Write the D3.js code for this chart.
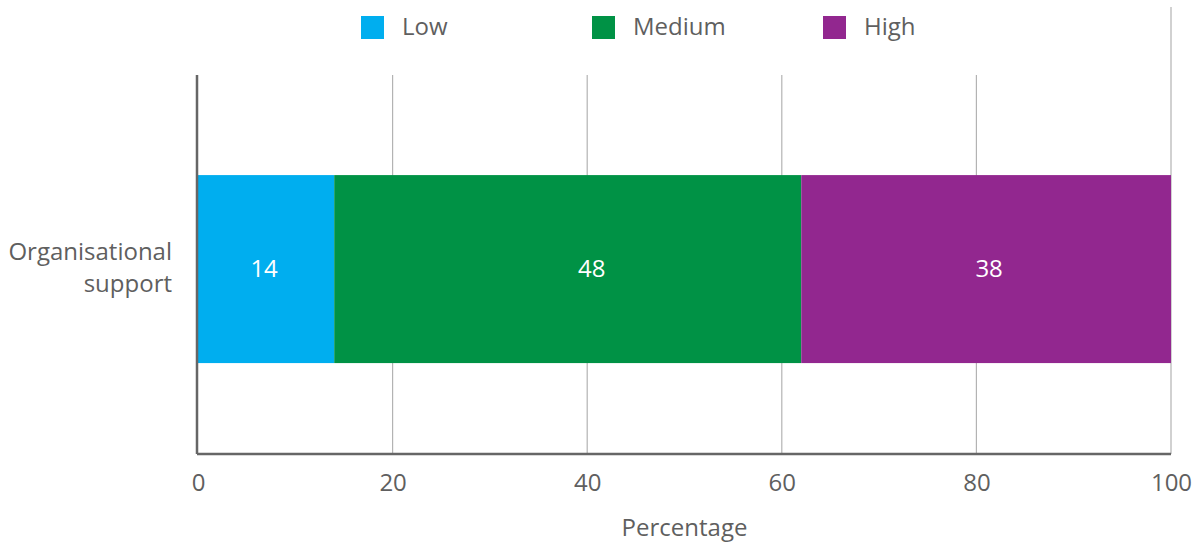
<!DOCTYPE html>
<html>
<head>
<meta charset="utf-8">
<script src="https://cdn.jsdelivr.net/npm/d3@7"></script>
<style>
  body { margin: 0; background: #fff; }
  svg text { font-family: "Open Sans", "Noto Sans", sans-serif; fill: #5f5f5f; }
</style>
</head>
<body>
<svg></svg>
<script>
// Data
const categories = ['Organisational support'];
const seriesNames = ['Low', 'Medium', 'High'];
const seriesColors = ['#00AEEF', '#009245', '#92278F'];
const lowValues = [14];
const mediumValues = [48];
const highValues = [38];
const xTicks = [0, 20, 40, 60, 80, 100];

// Constants
const width = 1196;
const height = 543;
const plotLeft = 198;
const plotRight = 1171;
const plotTop = 75;
const plotBottom = 454;
// small manual nudges of the value labels (px), as in the original
const labelShift = { Low: -2, Medium: 24, High: 3 };

const svg = d3.select('svg')
    .attr('width', width)
    .attr('height', height);

// table for stacking
const table = categories.map((c, i) => ({
    category: c,
    Low: lowValues[i],
    Medium: mediumValues[i],
    High: highValues[i]
}));
const stacked = d3.stack().keys(seriesNames)(table);

// scales
const x = d3.scaleLinear()
    .domain([0, 100])
    .range([plotLeft, plotRight]);

const y = d3.scaleBand()
    .domain(categories)
    .range([plotTop, plotBottom])
    .paddingInner(0.5)
    .paddingOuter(0.254)
    .align(0.524);

const color = d3.scaleOrdinal()
    .domain(seriesNames)
    .range(seriesColors);

// gridlines
svg.append('g')
    .selectAll('line')
    .data(xTicks.filter(d => d > 0))
    .enter().append('line')
    .attr('x1', d => x(d))
    .attr('x2', d => x(d))
    .attr('y1', d => d === 100 ? 7 : plotTop)
    .attr('y2', plotBottom)
    .attr('stroke', '#b3b3b3')
    .attr('stroke-width', 1.2);

// bars
const layers = svg.append('g')
    .selectAll('g')
    .data(stacked)
    .enter().append('g')
    .attr('fill', d => color(d.key));

layers.selectAll('rect')
    .data(d => d)
    .enter().append('rect')
    .attr('x', d => x(d[0]))
    .attr('y', d => y(d.data.category))
    .attr('width', d => x(d[1]) - x(d[0]))
    .attr('height', y.bandwidth());

layers.each(function (s) {
    d3.select(this).selectAll('text')
        .data(s)
        .enter().append('text')
        .attr('x', d => (x(d[0]) + x(d[1])) / 2 + labelShift[s.key])
        .attr('y', d => y(d.data.category) + y.bandwidth() / 2)
        .attr('dy', '0.35em')
        .attr('text-anchor', 'middle')
        .style('fill', '#fff')
        .style('font-size', '24px')
        .text(d => d[1] - d[0]);
});

// x axis
const xAxis = d3.axisBottom(x)
    .tickValues(xTicks)
    .tickSize(0)
    .tickPadding(20)
    .tickFormat(d => String(d));

const gx = svg.append('g')
    .attr('transform', `translate(0, ${plotBottom})`)
    .call(xAxis);
gx.select('.domain').remove();
gx.selectAll('text')
    .style('font-size', '24px');

svg.append('line')
    .attr('x1', plotLeft - 1)
    .attr('x2', plotRight)
    .attr('y1', plotBottom)
    .attr('y2', plotBottom)
    .attr('stroke', '#666')
    .attr('stroke-width', 2.5);

// y axis
svg.append('line')
    .attr('x1', plotLeft - 1)
    .attr('x2', plotLeft - 1)
    .attr('y1', plotTop)
    .attr('y2', plotBottom)
    .attr('stroke', '#666')
    .attr('stroke-width', 2.5);

// category labels
svg.append('g')
    .selectAll('text')
    .data(categories)
    .enter().append('text')
    .attr('text-anchor', 'end')
    .style('font-size', '24px')
    .attr('transform', d => `translate(172, ${y(d) + y.bandwidth() / 2})`)
    .each(function (d) {
        const words = ['Organisational', 'support'];
        d3.select(this).selectAll('tspan')
            .data(words).enter().append('tspan')
            .attr('x', 0)
            .attr('y', (w, i) => i === 0 ? -9 : 23)
            .text(w => w);
    });

// axis title
svg.append('text')
    .attr('x', (plotLeft + plotRight) / 2)
    .attr('y', 536)
    .attr('text-anchor', 'middle')
    .style('font-size', '24px')
    .text('Percentage');

// legend
const legend = svg.append('g')
    .attr('transform', 'translate(361, 16)');

const items = legend.selectAll('g')
    .data(seriesNames)
    .enter().append('g')
    .attr('transform', (d, i) => `translate(${i * 231}, 0)`);

items.append('rect')
    .attr('width', 23)
    .attr('height', 23)
    .attr('fill', d => color(d));

items.append('text')
    .attr('x', 41)
    .attr('y', 19)
    .style('font-size', '24px')
    .text(d => d);
</script>
</body>
</html>
